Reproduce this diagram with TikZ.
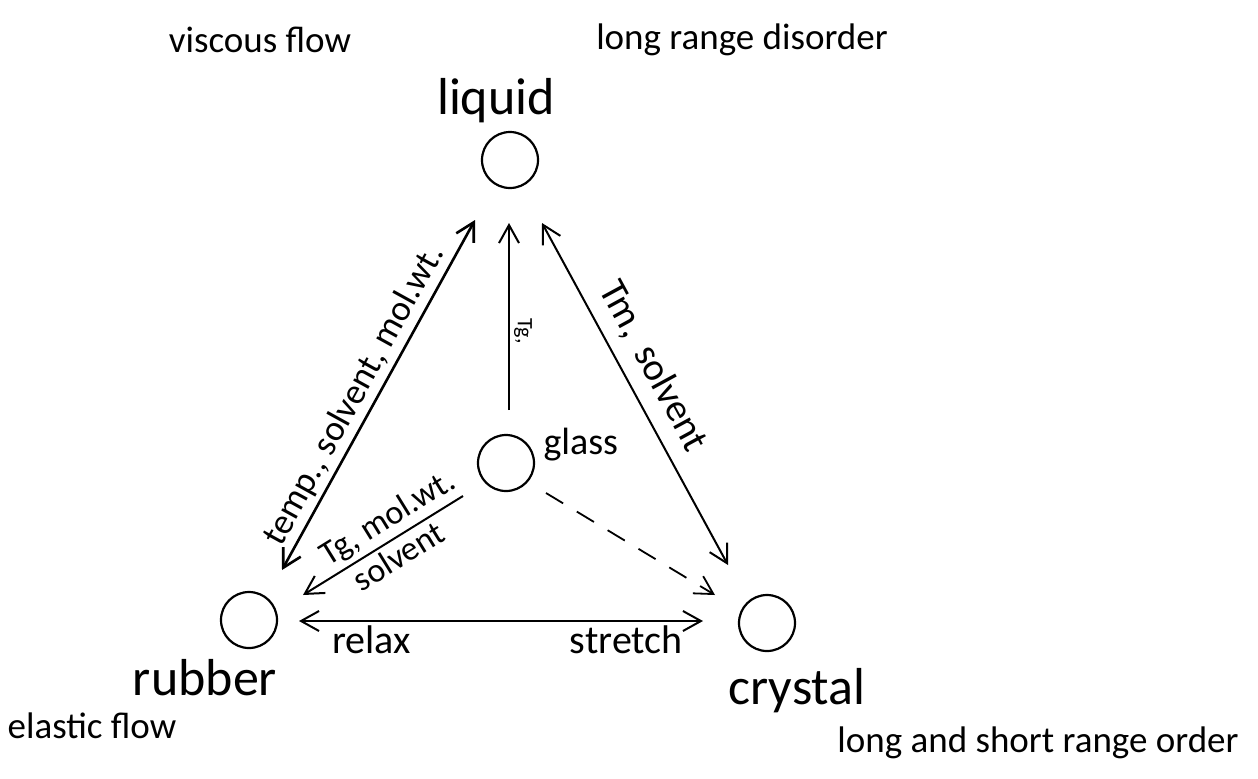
\documentclass[tikz,border=0pt]{standalone}
\usepackage{fontspec}
\setmainfont{Carlito}
\usepackage{tikz}
\usetikzlibrary{arrows.meta, positioning}
\tikzset{
  state/.style={
    circle, draw=black, line width=1.1pt, minimum size=28pt, inner sep=0pt
  },
  statelabel/.style={font=\fontsize{26}{29}\selectfont, inner sep=1pt},
  proplabel/.style={font=\fontsize{18.5}{21}\selectfont, inner sep=1pt},
  edgelabel/.style={font=\fontsize{18}{21}\selectfont, inner sep=2pt},
  barb/.tip={Straight Barb[length=9pt,width=10pt]},
  arrow/.style={-barb, line width=1pt, draw=black},
  dblarrow/.style={barb-barb, line width=1pt, draw=black},
  dasharrow/.style={-barb, line width=0.9pt, draw=black, dash pattern=on 10pt off 8pt}
}
\begin{document}
\begin{tikzpicture}[x=0.5pt, y=-0.5pt]
\useasboundingbox (0,0) rectangle (1258,778);

% states
\node[state] (liquid)  at (510,160) {};
\node[state] (glass)   at (506,463) {};
\node[state] (rubber)  at (249,620) {};
\node[state] (crystal) at (767,623) {};

\node[statelabel, above=3pt of liquid, xshift=-7pt] (liquidlbl) {liquid};
\node[statelabel, right=3pt of glass, yshift=9pt, font=\fontsize{19}{22}\selectfont] (glasslbl) {glass};
\node[statelabel, below=4pt of rubber, xshift=-22pt] (rubberlbl) {rubber};
\node[statelabel, below=7pt of crystal, xshift=15pt] (crystallbl) {crystal};

% properties
\node[proplabel] (viscous)  at (260,40)  {viscous flow};
\node[proplabel] (disorder) at (742,40)  {long range disorder};
\node[proplabel] (elastic)  at (92,726) {elastic flow};
\node[proplabel] (order)    at (1038,743) {long and short range order};

% transitions
\draw[dblarrow, line width=1.3pt] ([shift={(33,-50)}]rubber.center) -- ([shift={(-35,60)}]liquid.center)
  node[edgelabel, pos=0.47, sloped, above] {temp., solvent, mol.wt.};
\draw[arrow] ([shift={(3,-53)}]glass.center) -- ([shift={(-1,63)}]liquid.center)
  node[edgelabel, pos=0.42, rotate=-90, anchor=south, font=\fontsize{11}{13}\selectfont] {Tg,};
\draw[dblarrow] ([shift={(32,63)}]liquid.center) -- ([shift={(-39,-58)}]crystal.center)
  node[edgelabel, pos=0.46, sloped, above=4pt, font=\fontsize{19.5}{22}\selectfont] {Tm,\, solvent};
\draw[barb-, line width=1pt] ([shift={(54,-25)}]rubber.center) -- ([shift={(-43,33)}]glass.center)
  node[edgelabel, pos=0.6, sloped, above, font=\fontsize{17}{20}\selectfont] {Tg, mol.wt.}
  node[edgelabel, pos=0.54, sloped, below, font=\fontsize{17}{20}\selectfont] {solvent};
\draw[dasharrow] ([shift={(40,30)}]glass.center) -- ([shift={(-52,-28)}]crystal.center);
\draw[dblarrow] ([shift={(50,1)}]rubber.center) -- ([shift={(-64,-2)}]crystal.center)
  node[edgelabel, pos=0.18, below, font=\fontsize{20}{23}\selectfont] {relax}
  node[edgelabel, pos=0.81, below, font=\fontsize{20}{23}\selectfont] {stretch};

\end{tikzpicture}
\end{document}
